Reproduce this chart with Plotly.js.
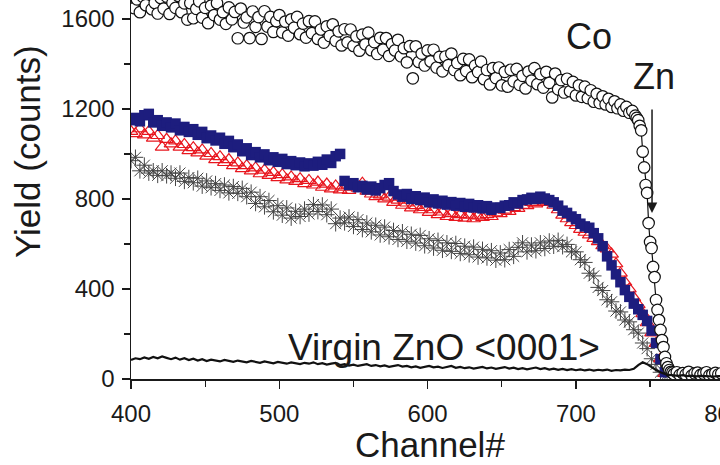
<!DOCTYPE html>
<html>
<head>
<meta charset="utf-8">
<script src="https://cdn.plot.ly/plotly-3.0.1.min.js"></script>
<style>
html,body{margin:0;padding:0;overflow:hidden;background:#fff;}
#chart{width:745px;height:465px;}
</style>
</head>
<body>
<div id="chart"></div>
<script>
// ---- Co implanted (open circles) ----
const coX = [400,402,404,406,408,410,412,414,416,418,420,422,424,426,428,430,432,434,436,438,440,442,444,446,448,450,452,454,456,458,460,462,464,466,468,470,472,474,476,478,480,482,484,486,488,490,492,494,496,498,500,502,504,506,508,510,512,514,516,518,520,522,524,526,528,530,532,534,536,538,540,542,544,546,548,550,552,554,556,558,560,562,564,566,568,570,572,574,576,578,580,582,584,586,588,590,592,594,596,598,600,602,604,606,608,610,612,614,616,618,620,622,624,626,628,630,632,634,636,638,640,642,644,646,648,650,652,654,656,658,660,662,664,666,668,670,672,674,676,678,680,682,684,686,688,690,692,694,696,698,700,702,704,706,708,710,712,714,716,718,720,722,724,726,728,730,732,734,736,738,740,
741,742,743,744,745,746,747,748,749,750,751,752,753,754,755,756,757,758,759,760,761,762,763,764,765,
766,768,770,772,774,776,778,780,782,784,786,788,790,792,794,796,798];
const coY = [1715,1648,1687,1630,1698,1661,1715,1643,1671,1624,1693,1646,1699,1622,1671,1649,1702,1630,1669,1597,1670,1603,1645,1678,1606,1649,1581,1659,1617,1670,1597,1630,1578,1651,1598,1631,1514,1646,1584,1607,1515,1633,1565,1608,1511,1634,1566,1609,1542,1590,1617,1540,1588,1526,1598,1561,1609,1532,1579,1517,1590,1537,1589,1511,1553,1495,1567,1524,1576,1503,1545,1482,1554,1496,1553,1480,1522,1459,1530,1487,1539,1461,1497,1444,1516,1463,1515,1436,1488,1460,1507,1434,1470,1407,1479,1336,1478,1409,1446,1393,1460,1411,1463,1384,1431,1367,1433,1395,1446,1373,1404,1350,1422,1368,1420,1341,1392,1364,1410,1332,1373,1309,1381,1337,1384,1305,1365,1299,1374,1323,1378,1307,1347,1291,1366,1326,1381,1310,1355,1295,1365,1316,1251,1357,1287,1328,1273,1334,1279,1320,1260,1305,1254,1299,1248,1283,1232,1267,1226,1256,1220,1245,1209,1234,1203,1220,1192,1209,1183,1191,1170,
1160,1150,1125,1105,1010,940,862,827,693,609,582,498,453,351,307,262,218,173,142,98,70,53,40,32,28,
22,30,18,26,20,32,15,25,28,18,24,30,16,22,27,20,25];

// ---- blue filled squares ----
const sqX = [400,403,406,409,412,415,418,421,424,427,430,433,436,439,442,445,448,451,454,457,460,463,466,469,472,475,478,481,484,487,490,493,496,499,502,505,508,511,514,517,520,523,526,529,532,535,538,541,544,547,550,553,556,559,562,565,568,571,574,577,580,583,586,589,592,595,598,601,604,607,610,613,616,619,622,625,628,631,634,637,640,643,646,649,652,655,658,661,664,667,670,673,676,679,682,685,688,691,694,697,700,703,706,709,712,715,718,721,724,727,730,733,736,739,742,745,748,751,754,757,760];
const sqY = [1150,1160,1145,1172,1178,1140,1150,1125,1140,1118,1135,1105,1120,1098,1110,1085,1098,1070,1082,1060,1072,1045,1058,1030,1042,1012,1025,995,1008,985,998,972,985,965,978,955,968,950,962,945,958,948,965,952,975,960,990,1000,880,862,870,852,858,842,855,838,848,862,870,835,820,810,822,800,812,795,806,785,798,780,792,775,786,770,782,765,778,762,772,758,768,752,762,760,770,772,785,780,795,798,805,800,810,802,795,785,770,748,738,722,710,690,678,672,648,625,590,545,505,465,430,395,365,335,310,285,258,215,160,88,30];

// ---- red open triangles ----
const trX = [400,403,406,409,412,415,418,421,424,427,430,433,436,439,442,445,448,451,454,457,460,463,466,469,472,475,478,481,484,487,490,493,496,499,502,505,508,511,514,517,520,523,526,529,532,535,538,541,544,547,550,553,556,559,562,565,568,571,574,577,580,583,586,589,592,595,598,601,604,607,610,613,616,619,622,625,628,631,634,637,640,643,646,649,652,655,658,661,664,667,670,673,676,679,682,685,688,691,694,697,700,703,706,709,712,715,718,721,724,727,730,733,736,739,742,745,748,751,754,757,760];
const trY = [1100,1090,1112,1085,1100,1070,1082,1030,1065,1045,1058,1030,1042,1015,1028,1005,1018,990,1002,975,988,962,975,948,960,935,948,925,938,912,928,905,918,895,908,885,898,878,890,868,882,862,875,852,866,845,858,840,852,838,860,848,870,835,822,810,818,800,808,785,795,772,782,760,770,752,762,740,752,730,742,722,735,718,730,715,728,712,725,718,730,722,738,735,750,745,762,758,772,770,785,778,792,785,790,772,752,728,712,695,682,665,652,640,625,610,592,578,555,512,470,430,400,362,330,290,250,205,158,90,25];

// ---- grey asterisks ----
const stX = [400,403,406,409,412,415,418,421,424,427,430,433,436,439,442,445,448,451,454,457,460,463,466,469,472,475,478,481,484,487,490,493,496,499,502,505,508,511,514,517,520,523,526,529,532,535,538,541,544,547,550,553,556,559,562,565,568,571,574,577,580,583,586,589,592,595,598,601,604,607,610,613,616,619,622,625,628,631,634,637,640,643,646,649,652,655,658,661,664,667,670,673,676,679,682,685,688,691,694,697,700,703,706,709,712,715,718,721,724,727,730,733,736,739,742,745,748,751,754,757,760];
const stY = [970,985,925,950,915,925,905,925,903,915,892,915,878,895,872,892,857,880,850,868,838,862,827,855,825,847,810,830,780,810,765,793,743,770,728,760,715,745,722,755,733,775,744,773,730,755,690,715,694,720,678,708,664,693,654,683,640,675,632,660,620,654,612,643,604,638,592,623,582,616,572,605,567,602,558,590,552,586,542,576,538,570,528,560,530,575,545,585,605,565,595,570,605,580,613,590,616,588,598,565,565,530,518,470,458,407,393,352,343,302,298,262,254,219,204,160,135,90,65,30,12];

// ---- virgin ZnO <0001> aligned (line) ----
const viX = [400,403,406,409,412,415,418,421,424,427,430,433,436,439,442,445,448,451,454,457,460,463,466,469,472,475,478,481,484,487,490,493,496,499,502,505,508,511,514,517,520,523,526,529,532,535,538,541,544,547,550,553,556,559,562,565,568,571,574,577,580,583,586,589,592,595,598,601,604,607,610,613,616,619,622,625,628,631,634,637,640,643,646,649,652,655,658,661,664,667,670,673,676,679,682,685,688,691,694,697,700,703,706,709,712,715,718,721,724,727,730,733,736,739,742,745,748,751,754,757,760,763,766,769,772,775,778,781,784,787,790,793,796,799];
const viY = [85,92,88,96,90,98,92,100,94,88,95,86,92,84,90,82,88,80,86,82,78,85,80,76,82,78,74,80,75,72,78,74,70,76,72,68,74,70,66,72,68,74,66,70,64,68,72,62,66,60,64,58,62,66,58,62,56,60,54,58,62,55,58,52,56,50,54,58,52,55,49,53,58,50,54,48,52,46,50,54,47,51,45,49,53,46,50,44,48,43,47,51,44,48,42,46,41,45,40,44,39,43,38,42,37,41,38,42,36,40,38,42,40,45,62,74,66,52,40,30,22,18,16,14,17,13,15,12,14,12,13,11,13,12];

const xTickVals = [400,500,600,700,800];
const xMinorVals = [450,550,650,750];
const yTickVals = [0,400,800,1200,1600];
const yMinorVals = [200,600,1000,1400];

const FONT = '"Liberation Sans", Arial, sans-serif';
const INK = '#1a1a1a';

// connecting line is only visible along the steep Zn edge
const edgeStart = coX.indexOf(740);

const traces = [
  {x: stX, y: stY, type:'scatter', mode:'markers',
   marker:{symbol:'asterisk-open', size:13, color:'#444', line:{color:'#444', width:1}}},
  {x: trX, y: trY, type:'scatter', mode:'markers',
   marker:{symbol:'triangle-up-open', size:12, color:'#e8161e', line:{color:'#e8161e', width:1.2}}},
  {x: sqX, y: sqY, type:'scatter', mode:'markers',
   marker:{symbol:'square', size:10.5, color:'#1d1d7e', line:{width:0}}},
  {x: coX.slice(edgeStart), y: coY.slice(edgeStart), type:'scatter', mode:'lines',
   line:{color:'#111', width:1.2}},
  {x: coX, y: coY, type:'scatter', mode:'markers',
   marker:{symbol:'circle', size:11.5, color:'#ffffff', line:{color:'#111', width:1.2}}},
  {x: viX, y: viY, type:'scatter', mode:'lines',
   line:{color:'#111', width:2.2}}
];

const axisCommon = {
  showgrid:false, zeroline:false, showline:true, linecolor:INK, linewidth:1.5,
  ticks:'outside', ticklen:8, tickwidth:1.5, tickcolor:INK,
  tickfont:{family:FONT, size:24, color:INK}
};

const layout = {
  width:745, height:465,
  margin:{l:131, r:20, t:0, b:86, pad:0},
  paper_bgcolor:'#fff', plot_bgcolor:'#fff',
  showlegend:false,
  xaxis: Object.assign({}, axisCommon, {
    range:[400, 800.5], tickmode:'array', tickvals:xTickVals,
    minor:{tickmode:'array', tickvals:xMinorVals, ticks:'outside', ticklen:6, tickwidth:1.2, tickcolor:INK, showgrid:false},
    ticklabelstandoff:5
  }),
  yaxis: Object.assign({}, axisCommon, {
    range:[0, 1684], tickmode:'array', tickvals:yTickVals,
    minor:{tickmode:'array', tickvals:yMinorVals, ticks:'outside', ticklen:6, tickwidth:1.2, tickcolor:INK, showgrid:false},
    ticklabelstandoff:2
  }),
  annotations:[
    {text:'Co', x:708.8, y:1520, xref:'x', yref:'y', showarrow:false, font:{family:FONT, size:36, color:INK}},
    {text:'Zn', x:752.7, y:1342, xref:'x', yref:'y', showarrow:false, font:{family:FONT, size:36, color:INK}},
    {text:'Virgin ZnO &lt;0001&gt;', x:611, y:140, xref:'x', yref:'y', showarrow:false, font:{family:FONT, size:37, color:INK}},
    {text:'', x:751.3, y:738, ax:751.3, ay:1204, xref:'x', yref:'y', axref:'x', ayref:'y',
     showarrow:true, arrowhead:2, arrowsize:1.4, arrowwidth:1.5, arrowcolor:INK},
    {text:'Yield (counts)', xref:'paper', yref:'paper', x:-0.1734, y:0.599, xanchor:'center', yanchor:'middle',
     textangle:-90, showarrow:false, font:{family:FONT, size:35, color:INK}},
    {text:'Channel#', xref:'paper', yref:'paper', x:0.503, y:-0.172, xanchor:'center', yanchor:'middle',
     showarrow:false, font:{family:FONT, size:35, color:INK}}
  ]
};

Plotly.newPlot('chart', traces, layout, {displayModeBar:false, staticPlot:true});
</script>
</body>
</html>
